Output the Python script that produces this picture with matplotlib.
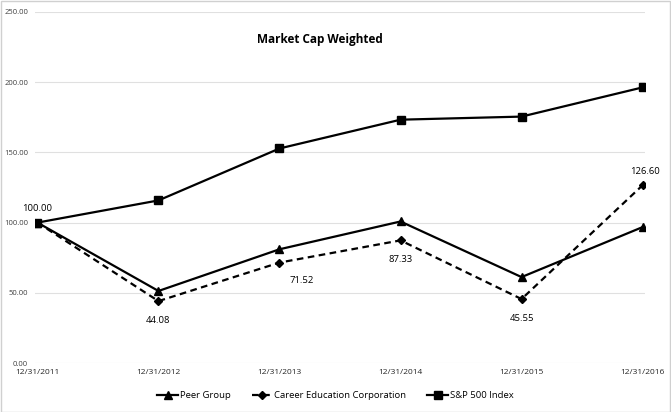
import matplotlib
matplotlib.use("Agg")
import matplotlib.pyplot as plt
import numpy as np

dates = ["12/31/2011", "12/31/2012", "12/31/2013", "12/31/2014", "12/31/2015", "12/31/2016"]
peer_group = [100.00, 51.3, 81.0, 100.8, 61.2, 96.8]
career_ed = [100.00, 44.08, 71.52, 87.33, 45.55, 126.60]
sp500 = [100.00, 115.8, 152.8, 173.3, 175.5, 196.3]
labeled = {0: (0, 10), 1: (0, -14), 2: (16, -13), 3: (0, -14), 4: (0, -14), 5: (2, 10)}

plt.rcParams["font.family"] = ["Open Sans", "DejaVu Sans"]

fig = plt.figure(figsize=(6.71, 4.12), dpi=100)
ax = fig.add_axes([35 / 671, (412 - 363) / 412, 610 / 671, 351 / 412])
x = np.arange(len(dates))

ax.plot(x, peer_group, color="black", lw=1.6, marker="^", ms=6, label="Peer Group")
ax.plot(x, career_ed, color="black", lw=1.6, ls=(0, (3, 2)), marker="D", ms=4.5, label="Career Education Corporation")
ax.plot(x, sp500, color="black", lw=1.6, marker="s", ms=6, label="S&P 500 Index")

for i, (dx, dy) in labeled.items():
    ax.annotate(f"{career_ed[i]:.2f}", (x[i], career_ed[i]), xytext=(dx, dy),
                textcoords="offset points", ha="center", va="center", fontsize=6.8)

ax.set_xlim(-0.02, 5.02)
ax.set_ylim(0, 250)
ax.set_yticks(np.arange(0, 251, 50))
ax.set_yticklabels([f"{v:.2f}" for v in np.arange(0, 251, 50)])
ax.set_xticks(x)
ax.set_xticklabels(dates)
ax.tick_params(axis="y", length=0, labelsize=5.5, colors="#404040", pad=5)
ax.tick_params(axis="x", length=0, labelsize=6, colors="#262626", pad=4)
ax.grid(axis="y", color="#e0e0e0", lw=0.8)
ax.set_axisbelow(True)
for s in ax.spines.values():
    s.set_visible(False)

fig.text(320 / 671, 1 - 40 / 412, "Market Cap Weighted", ha="center", va="center",
         fontsize=8.5, fontweight="bold")
fig.legend(loc="center", bbox_to_anchor=(0.5, 1 - 396 / 412), ncol=3, frameon=False,
           fontsize=6.8, handlelength=2.2, handletextpad=0.2, columnspacing=2.2)

border = plt.Rectangle((0.001, 0.001), 0.997, 0.997, transform=fig.transFigure,
                       fill=False, ec="#d0d0d0", lw=1)
fig.patches.append(border)

fig.savefig("out.png", dpi=100)
